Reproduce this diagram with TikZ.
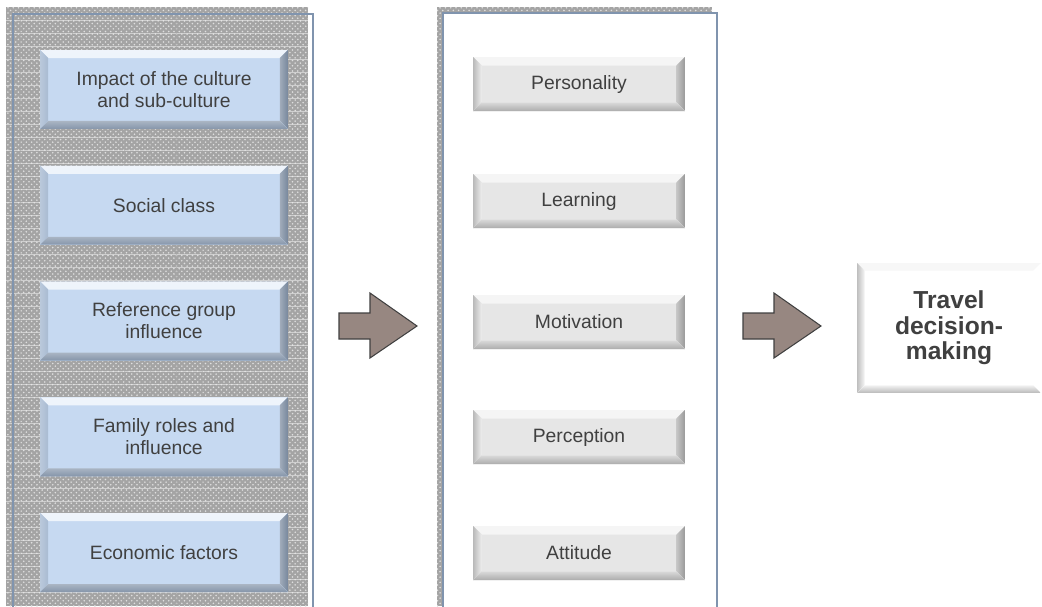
\documentclass[tikz,border=0pt]{standalone}
\usepackage{fontspec}
\setmainfont{Liberation Sans}
\usepackage{tikz}
\usetikzlibrary{patterns}
\usetikzlibrary{positioning}
\definecolor{boxblue}{HTML}{C6D9F1}
\definecolor{bluetop}{HTML}{E4EDF8}
\definecolor{blueleft}{HTML}{A9BBD2}
\definecolor{blueright}{HTML}{77879C}
\definecolor{bluebot}{HTML}{8595AA}
\definecolor{boxgray}{HTML}{E6E6E6}
\definecolor{txtgray}{HTML}{404040}
\definecolor{panelline}{HTML}{8094AE}
\definecolor{texgray}{HTML}{A4A4A4}
\definecolor{arrowfill}{HTML}{978781}
\newcommand{\bevel}[5]{%
  \fill[#2] (path picture bounding box.north west) -- (path picture bounding box.north east)
    -- ([shift={(-#1,-#1)}]path picture bounding box.north east)
    -- ([shift={(#1,-#1)}]path picture bounding box.north west) -- cycle;
  \fill[#3] (path picture bounding box.north west) -- (path picture bounding box.south west)
    -- ([shift={(#1,#1)}]path picture bounding box.south west)
    -- ([shift={(#1,-#1)}]path picture bounding box.north west) -- cycle;
  \fill[#4] (path picture bounding box.north east) -- (path picture bounding box.south east)
    -- ([shift={(-#1,#1)}]path picture bounding box.south east)
    -- ([shift={(-#1,-#1)}]path picture bounding box.north east) -- cycle;
  \fill[#5] (path picture bounding box.south west) -- (path picture bounding box.south east)
    -- ([shift={(-#1,#1)}]path picture bounding box.south east)
    -- ([shift={(#1,#1)}]path picture bounding box.south west) -- cycle;}
\tikzset{factor/.style = {fill=boxblue, minimum width=4.96cm, minimum height=1.58cm,
                          align=center, text=txtgray, font=\fontsize{11}{12.5}\selectfont,
                          path picture={\bevel{0.16cm}{top color=bluetop!60!white, bottom color=bluetop}{left color=blueleft!80!white, right color=blueleft}{left color=blueright!70!white, right color=blueright}{top color=bluebot!70!white, bottom color=bluebot}}}}
\tikzset{trait/.style = {fill=boxgray, minimum width=4.24cm, minimum height=1.08cm,
                         align=center, text=txtgray, font=\fontsize{11}{12.5}\selectfont,
                         path picture={\bevel{0.17cm}{gray!8}{left color=gray!55, right color=gray!15}{left color=gray!45, right color=gray!80}{top color=gray!30, bottom color=gray!65}}}}
\tikzset{outcome/.style = {fill=white, minimum width=3.68cm, minimum height=2.6cm,
                           align=center, text=txtgray, font=\fontsize{14}{14.5}\selectfont\bfseries,
                           path picture={\bevel{0.15cm}{gray!6}{left color=gray!50, right color=gray!8}{white}{top color=gray!12, bottom color=gray!55}}}}
\tikzset{bigarrow/.style = {fill=arrowfill, draw=txtgray, line width=0.6pt, line join=miter}}
\tikzset{texture/.style = {fill=texgray, postaction={pattern=crosshatch dots, pattern color=white!75!gray}}}

\begin{document}
\begin{tikzpicture}[x=0.02cm, y=-0.02cm]
      \useasboundingbox (0, 0) rectangle (1042, 606);

      % left panel
      \fill [texture] (6, 7) rectangle (308, 606);
      \foreach \y in {20, 33, ..., 600} {
        \draw [white!85!gray, opacity=0.6, line width=0.5pt] (6, \y) -- (308, \y);
      }
      \foreach \x in {20, 46, ..., 300} {
        \draw [gray!70, opacity=0.5, line width=0.4pt] (\x, 7) -- (\x, 606);
      }
      \draw [panelline, line width=0.8pt] (13, 610) -- (13, 14) -- (313, 14) -- (313, 610);

      % middle panel
      \fill [texture] (437, 7) rectangle (712, 606);
      \draw [panelline, line width=0.8pt, fill=white] (443, 610) -- (443, 13) -- (717, 13) -- (717, 610);

      % social and cultural factors
      \node [factor] (culture) at (164, 89.5) {Impact of the culture\\and sub-culture};
      \node [factor] (social) at (164, 205.25) {Social class};
      \node [factor] (refgroup) at (164, 321) {Reference group\\influence};
      \node [factor] (family) at (164, 436.75) {Family roles and\\influence};
      \node [factor] (economic) at (164, 552.5) {Economic factors};

      % personal factors
      \node [trait] (personality) at (579, 84) {Personality};
      \node [trait] (learning) at (579, 201) {Learning};
      \node [trait] (motivation) at (579, 322) {Motivation};
      \node [trait] (perception) at (579, 437) {Perception};
      \node [trait] (attitude) at (579, 553) {Attitude};

      % outcome
      \node [outcome] (travel) at (949, 328) {Travel\\decision-\\making};

      % block arrows
      \foreach \ax in {339, 743} {
        \draw [bigarrow] (\ax, 313) -- ++(31, 0) -- ++(0, -20) -- ++(47, 33)
          -- ++(-47, 32) -- ++(0, -19) -- ++(-31, 0) -- cycle;
      }
    \end{tikzpicture}
\end{document}
